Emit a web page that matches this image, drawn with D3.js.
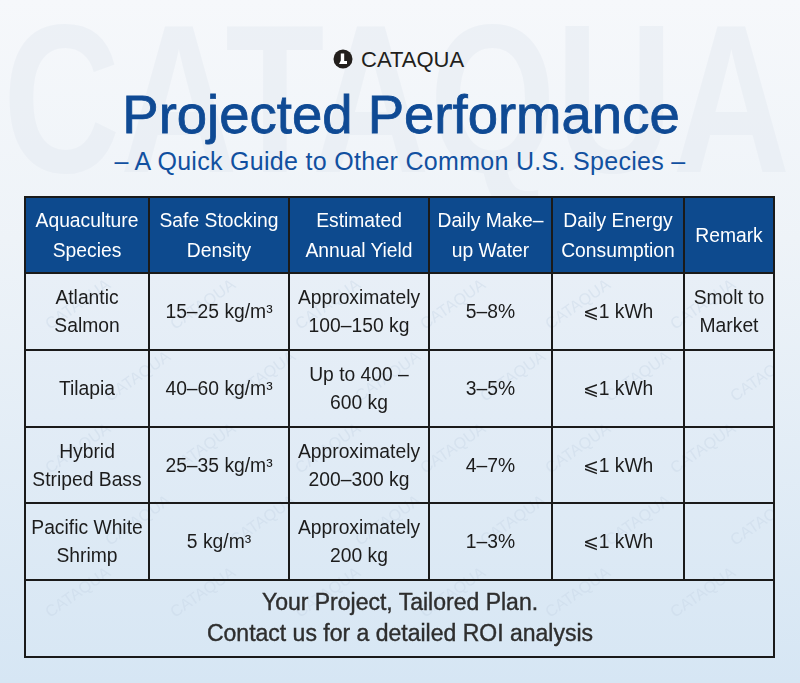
<!DOCTYPE html>
<html>
<head>
<meta charset="utf-8">
<script src="https://cdn.jsdelivr.net/npm/d3@7"></script>
<style>
  html, body { margin: 0; padding: 0; background: #eef3f8; }
  svg { display: block; font-family: "Liberation Sans", Arial, sans-serif; }
</style>
</head>
<body>
<div id="chart"></div>
<script>
// Table content
const headers = [
  ["Aquaculture", "Species"],
  ["Safe Stocking", "Density"],
  ["Estimated", "Annual Yield"],
  ["Daily Make–", "up Water"],
  ["Daily Energy", "Consumption"],
  ["Remark"]
];
const species = [["Atlantic", "Salmon"], ["Tilapia"], ["Hybrid", "Striped Bass"], ["Pacific White", "Shrimp"]];
const density = [["15–25 kg/m³"], ["40–60 kg/m³"], ["25–35 kg/m³"], ["5 kg/m³"]];
const annualYield = [["Approximately", "100–150 kg"], ["Up to 400 –", "600 kg"], ["Approximately", "200–300 kg"], ["Approximately", "200 kg"]];
const makeupWater = [["5–8%"], ["3–5%"], ["4–7%"], ["1–3%"]];
const energy = [["⩽1 kWh"], ["⩽1 kWh"], ["⩽1 kWh"], ["⩽1 kWh"]];
const remarks = [["Smolt to", "Market"], [], [], []];
const footer = ["Your Project, Tailored Plan.", "Contact us for a detailed ROI analysis"];

const width = 800;
const height = 683;

// layout
const colEdges = [25, 149, 289, 429, 552, 684, 774];
const rowEdges = [197, 273, 350, 427, 503, 580, 657];

const svg = d3.select("#chart").append("svg")
  .attr("width", width)
  .attr("height", height)
  .attr("viewBox", [0, 0, width, height]);

const defs = svg.append("defs");
const bg = defs.append("linearGradient")
  .attr("id", "bg").attr("x1", 0).attr("y1", 0).attr("x2", 0).attr("y2", 1);
bg.append("stop").attr("offset", "0%").attr("stop-color", "#f6f8fb");
bg.append("stop").attr("offset", "35%").attr("stop-color", "#eef3f8");
bg.append("stop").attr("offset", "100%").attr("stop-color", "#d6e6f4");

const cellBg = defs.append("linearGradient")
  .attr("id", "cellbg").attr("gradientUnits", "userSpaceOnUse")
  .attr("x1", 0).attr("y1", rowEdges[1]).attr("x2", 0).attr("y2", rowEdges[6]);
cellBg.append("stop").attr("offset", "0%").attr("stop-color", "#e8eff7");
cellBg.append("stop").attr("offset", "100%").attr("stop-color", "#d8e7f4");

svg.append("rect").attr("width", width).attr("height", height).attr("fill", "url(#bg)");

// big faint watermark behind the title
svg.append("text")
  .attr("x", 3).attr("y", 172)
  .attr("textLength", 787)
  .attr("lengthAdjust", "spacingAndGlyphs")
  .style("font-size", "212px")
  .style("font-weight", "bold")
  .attr("fill", "#e3e9f1")
  .attr("opacity", 0.45)
  .text("CATAQUA");

// logo
const logo = svg.append("g").attr("transform", "translate(343,59)");
logo.append("circle").attr("r", 9.5).attr("fill", "#231f1c");
logo.append("path")
  .attr("d", "M-2.2,-5.5 L1.2,-5.5 L1.2,2 L4,2 L4,5 L-4,5 L-2.2,1.5 Z")
  .attr("fill", "#fff");
svg.append("text")
  .attr("x", 361).attr("y", 67)
  .style("font-size", "22px")
  .attr("fill", "#231f1c")
  .text("CATAQUA");

// title
svg.append("text")
  .attr("x", 401).attr("y", 133)
  .attr("text-anchor", "middle")
  .style("font-size", "54.5px")
  .attr("fill", "#0f4a94")
  .attr("stroke", "#0f4a94").attr("stroke-width", 0.8)
  .text("Projected Performance");

svg.append("text")
  .attr("x", 400).attr("y", 170)
  .attr("text-anchor", "middle")
  .style("font-size", "25px")
  .style("letter-spacing", "0.3px")
  .attr("fill", "#1150a0")
  .text("– A Quick Guide to Other Common U.S. Species –");

// table body
const columns = [species, density, annualYield, makeupWater, energy, remarks];
const table = svg.append("g");

table.append("rect")
  .attr("x", colEdges[0]).attr("y", rowEdges[0])
  .attr("width", colEdges[6] - colEdges[0])
  .attr("height", rowEdges[1] - rowEdges[0])
  .attr("fill", "#0d4a8e");
table.append("rect")
  .attr("x", colEdges[0]).attr("y", rowEdges[1])
  .attr("width", colEdges[6] - colEdges[0])
  .attr("height", rowEdges[6] - rowEdges[1])
  .attr("fill", "url(#cellbg)");

// small rotated watermarks, kept inside the table
defs.append("clipPath").attr("id", "tclip").append("rect")
  .attr("x", colEdges[0]).attr("y", rowEdges[1])
  .attr("width", colEdges[6] - colEdges[0])
  .attr("height", rowEdges[6] - rowEdges[1]);
const wm = table.append("g")
  .attr("clip-path", "url(#tclip)")
  .attr("fill", "#c6d5e5")
  .attr("opacity", 0.4)
  .style("font-size", "16px");
for (let gy = 0; gy < 5; gy++) {
  for (let gx = 0; gx < 6; gx++) {
    const x = 50 + gx * 125 + (gy % 2) * 60;
    const y = 330 + gy * 72;
    wm.append("text")
      .attr("transform", `translate(${x},${y}) rotate(-35)`)
      .text("CATAQUA");
  }
}

function multiline(g, lines, cx, cy, lh, size, color) {
  const t = g.append("text")
    .attr("text-anchor", "middle")
    .style("font-size", size + "px")
    .attr("fill", color);
  const n = lines.length;
  lines.forEach((l, i) => {
    t.append("tspan")
      .attr("x", cx)
      .attr("y", cy + (i - (n - 1) / 2) * lh)
      .attr("dy", "0.35em")
      .text(l);
  });
  return t;
}

headers.forEach((h, c) => {
  const cx = (colEdges[c] + colEdges[c + 1]) / 2;
  const cy = (rowEdges[0] + rowEdges[1]) / 2;
  multiline(table, h, cx, cy, 29.5, 19.3, "#ffffff");
});

columns.forEach((col, c) => {
  col.forEach((cell, r) => {
    const cx = (colEdges[c] + colEdges[c + 1]) / 2;
    const cy = (rowEdges[r + 1] + rowEdges[r + 2]) / 2;
    multiline(table, cell, cx, cy, 28, 19.3, "#1c1c1c");
  });
});

multiline(table, footer, 400, (rowEdges[5] + rowEdges[6]) / 2 - 1, 31, 23, "#2e2e2e")
  .attr("stroke", "#2e2e2e").attr("stroke-width", 0.4);

// grid lines
const grid = table.append("g")
  .attr("stroke", "#1a1a1a")
  .attr("stroke-width", 2)
  .attr("fill", "none");
grid.append("rect")
  .attr("x", colEdges[0]).attr("y", rowEdges[0])
  .attr("width", colEdges[6] - colEdges[0])
  .attr("height", rowEdges[6] - rowEdges[0]);
rowEdges.slice(1, 6).forEach(y => {
  grid.append("line")
    .attr("x1", colEdges[0]).attr("x2", colEdges[6])
    .attr("y1", y).attr("y2", y);
});
colEdges.slice(1, 6).forEach(x => {
  grid.append("line")
    .attr("x1", x).attr("x2", x)
    .attr("y1", rowEdges[0]).attr("y2", rowEdges[5]);
});
</script>
</body>
</html>
